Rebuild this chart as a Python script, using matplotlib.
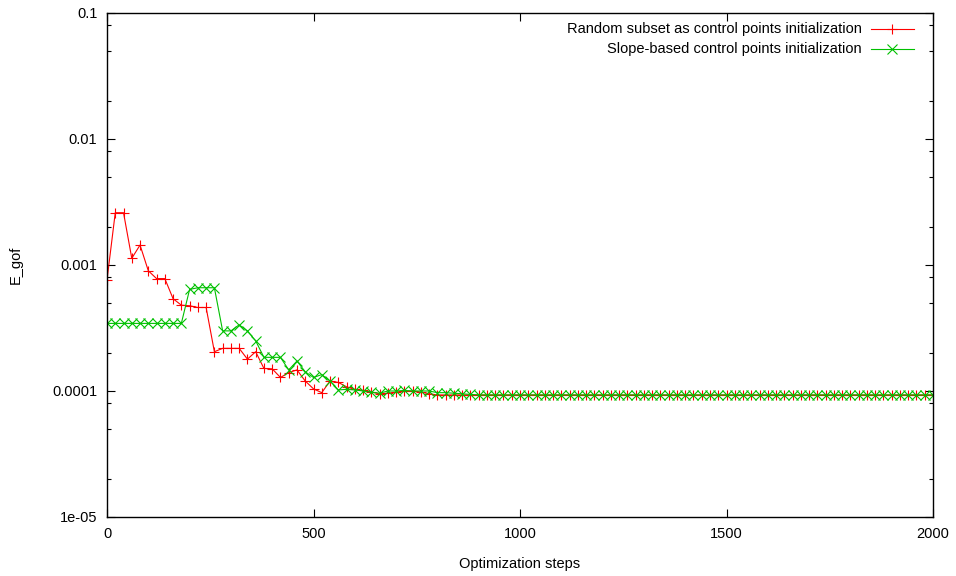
import numpy as np
import matplotlib.pyplot as plt
from matplotlib.ticker import LogLocator, NullFormatter, FixedLocator
from matplotlib.lines import Line2D

plt.rcParams['font.family'] = ['Liberation Sans', 'DejaVu Sans']
plt.rcParams['font.size'] = 10.5

# optimization step of each sample
steps = np.arange(0, 2001, 20)

# E_gof, random subset init
random_head = [7.6e-4, 2.6e-3, 2.6e-3, 1.13e-3, 1.44e-3, 9.0e-4, 7.8e-4, 7.8e-4,
               5.4e-4, 4.8e-4, 4.75e-4, 4.6e-4, 4.6e-4, 2.05e-4, 2.18e-4, 2.18e-4,
               2.18e-4, 1.79e-4, 2.05e-4, 1.51e-4, 1.5e-4, 1.28e-4, 1.4e-4, 1.47e-4,
               1.2e-4, 1.04e-4, 9.7e-5, 1.2e-4, 1.17e-4, 1.08e-4, 1.03e-4, 1.01e-4,
               9.8e-5, 9.5e-5, 9.6e-5, 9.8e-5, 1.0e-4, 1.0e-4, 9.8e-5, 9.5e-5,
               9.3e-5]
# E_gof, slope-based init
slope_head = [3.44e-4, 3.44e-4, 3.44e-4, 3.44e-4, 3.44e-4, 3.44e-4, 3.44e-4, 3.44e-4,
              3.44e-4, 3.44e-4, 6.4e-4, 6.6e-4, 6.6e-4, 6.6e-4, 3.0e-4, 3.0e-4,
              3.35e-4, 3.0e-4, 2.5e-4, 1.85e-4, 1.85e-4, 1.85e-4, 1.47e-4, 1.73e-4,
              1.42e-4, 1.28e-4, 1.35e-4, 1.2e-4, 1.02e-4, 1.03e-4, 1.02e-4, 1.0e-4,
              9.8e-5, 9.6e-5, 1.0e-4, 1.0e-4, 1.01e-4, 1.0e-4, 1.0e-4, 1.0e-4,
              9.7e-5, 9.7e-5, 9.6e-5, 9.5e-5, 9.4e-5, 9.3e-5]
plateau = 9.3e-5
random_init = random_head + [plateau] * (len(steps) - len(random_head))
slope_init = slope_head + [plateau] * (len(steps) - len(slope_head))

labels = ["Random subset as control points initialization",
          "Slope-based control points initialization"]
colors = ["#ff0000", "#00c000"]
markers = ["+", "x"]

fig = plt.figure(figsize=(9.56, 5.76), dpi=100)
ax = fig.add_axes([107 / 956, 59 / 576, 826 / 956, 504 / 576])

for ys, c, m in zip([random_init, slope_init], colors, markers):
    ax.plot(steps, ys, color=c, marker=m, lw=0.8, ms=7, mew=0.8)

ax.set_yscale('log')
ax.set_xlim(0, 2000)
ax.set_ylim(1e-5, 0.1)
ax.set_xticks([0, 500, 1000, 1500, 2000])
ax.yaxis.set_major_locator(FixedLocator([1e-5, 1e-4, 1e-3, 1e-2, 1e-1]))
ax.set_yticklabels(["1e-05", "0.0001", "0.001", "0.01", "0.1"])
ax.yaxis.set_minor_locator(LogLocator(base=10, subs=(2, 5, 8)))
ax.yaxis.set_minor_formatter(NullFormatter())
ax.tick_params(which='both', direction='in', top=True, right=True, width=0.8)
ax.tick_params(which='major', length=6, pad=7)
ax.tick_params(which='minor', length=3)
for sp in ax.spines.values():
    sp.set_linewidth(1.0)

ax.set_xlabel("Optimization steps", labelpad=12)
ax.set_ylabel("E_gof", labelpad=21)

# key in the upper right corner, text right-aligned before the sample
for i, (lab, c, m) in enumerate(zip(labels, colors, markers)):
    yy = (517 - (29 + 20 * i)) / 504
    ax.text((862 - 107) / 826, yy, lab, transform=ax.transAxes,
            ha='right', va='center')
    ax.add_line(Line2D([(871 - 107) / 826, (914 - 107) / 826], [yy, yy],
                       transform=ax.transAxes, color=c, lw=0.8))
    ax.add_line(Line2D([(892 - 107) / 826], [yy], transform=ax.transAxes,
                       color=c, marker=m, ms=7, mew=0.8))

fig.savefig("out.png", dpi=100)
